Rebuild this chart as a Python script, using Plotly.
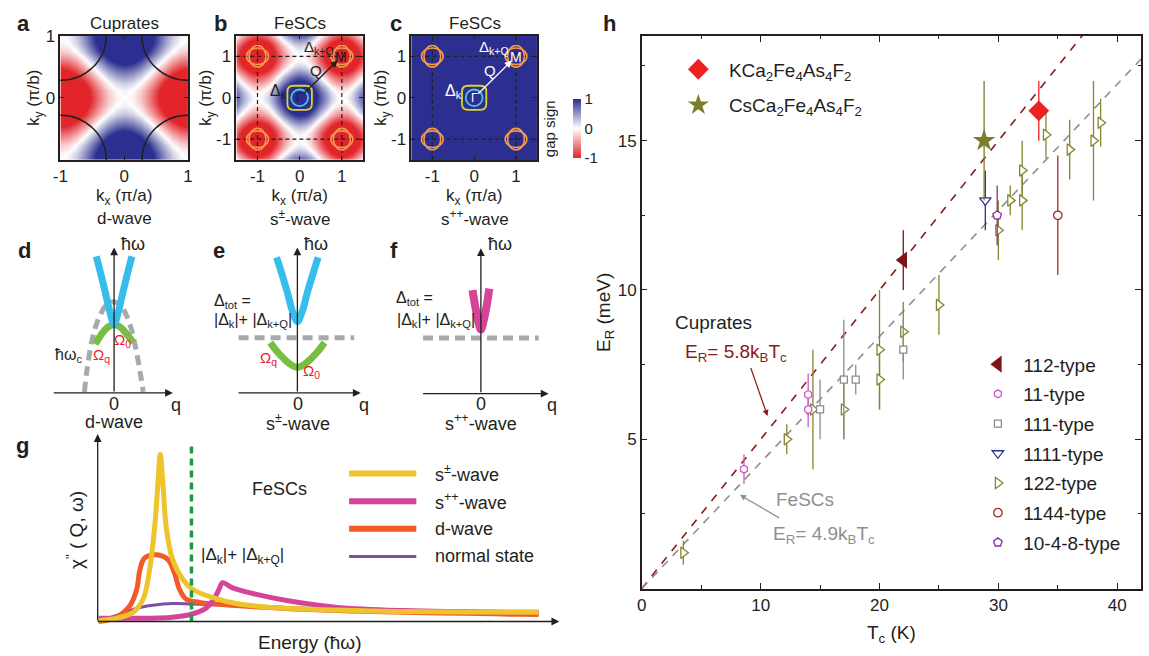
import plotly.graph_objects as go

W, H = 1149, 656
FONT = "Liberation Sans, Arial, sans-serif"
INK = "#231F20"


def P(x_px, y_px):
    return x_px / W, 1 - y_px / H


# ======================= DATA =======================
# ---- panel h : resonance energy vs Tc ----
kB = 0.08617  # meV/K
ratio_cuprate = 5.8
ratio_fesc = 4.9
fit_tc = [0.0, 42.0]

tc_112 = [22.0]; er_112 = [11.0]; de_112 = [1.0]
tc_11 = [8.6, 14.0, 14.0]; er_11 = [4.0, 6.5, 6.0]; de_11 = [0.5, 0.7, 0.6]
tc_111 = [15.0, 17.0, 18.0, 22.0]; er_111 = [6.0, 7.0, 7.0, 8.0]; de_111 = [1.0, 2.0, 0.5, 1.0]
tc_1111 = [28.9]; er_1111 = [13.0]; de_1111 = [1.0]
tc_122 = [3.5, 12.2, 14.4, 17.0, 20.0, 20.0, 22.0, 25.0, 30.0, 31.0, 32.0, 32.0, 34.0, 36.0, 38.0, 38.6]
er_122 = [1.2, 5.0, 6.0, 6.0, 8.0, 7.0, 8.6, 9.5, 12.0, 13.0, 14.0, 13.0, 15.2, 14.7, 15.0, 15.6]
de_122 = [0.4, 0.5, 2.0, 1.0, 2.0, 1.0, 1.0, 1.0, 1.0, 0.5, 1.0, 1.0, 0.8, 1.0, 2.0, 0.8]
tc_1144 = [35.0]; er_1144 = [12.5]; de_1144 = [2.0]
tc_1048 = [29.9]; er_1048 = [12.5]; de_1048 = [1.0]
tc_kca = [33.4]; er_kca = [16.0]; de_kca = [1.0]
tc_csca = [28.8]; er_csca = [15.0]; de_csca = [2.0]

k_a = [-1, -0.875, -0.75, -0.625, -0.5, -0.375, -0.25, -0.125, 0,
       0.125, 0.25, 0.375, 0.5, 0.625, 0.75, 0.875, 1]
prof_a = [-1, -0.92, -0.71, -0.38, 0, 0.38, 0.71, 0.92, 1,
          0.92, 0.71, 0.38, 0, -0.38, -0.71, -0.92, -1]
k_b = [-1.5, -1.375, -1.25, -1.125, -1, -0.875, -0.75, -0.625, -0.5, -0.375, -0.25, -0.125, 0,
       0.125, 0.25, 0.375, 0.5, 0.625, 0.75, 0.875, 1, 1.125, 1.25, 1.375, 1.5]
prof_b = [0, -0.38, -0.71, -0.92, -1, -0.92, -0.71, -0.38, 0, 0.38, 0.71, 0.92, 1,
          0.92, 0.71, 0.38, 0, -0.38, -0.71, -0.92, -1, -0.92, -0.71, -0.38, 0]
k_c = [-1.5, 1.5]
sign_c = [[1, 1], [1, 1]]

# ---- panels d-f : schematic dispersions (q, energy) ----
blue_d_q = [-0.36, -0.27, -0.18, -0.09, 0.0, 0.09, 0.18, 0.27, 0.36]
blue_d_e = [2.77, 2.42, 2.05, 1.66, 1.40, 1.66, 2.05, 2.42, 2.77]
green_d_q = [-0.38, -0.25, -0.12, 0.0, 0.12, 0.25, 0.39]
green_d_e = [0.99, 1.20, 1.34, 1.39, 1.34, 1.20, 1.02]
gray_d_q = [-0.60, -0.55, -0.45, -0.31, -0.15, 0.0, 0.15, 0.32, 0.45, 0.59]
gray_d_e = [0.02, 0.45, 1.05, 1.52, 1.79, 1.85, 1.75, 1.39, 0.85, 0.02]

blue_e_q = [-0.42, -0.31, -0.20, -0.10, 0.0, 0.10, 0.20, 0.31, 0.42]
blue_e_e = [2.75, 2.40, 2.03, 1.66, 1.45, 1.66, 2.03, 2.40, 2.75]
green_e_q = [-0.55, -0.42, -0.28, -0.14, 0.0, 0.14, 0.28, 0.42, 0.55]
green_e_e = [1.02, 0.85, 0.70, 0.58, 0.52, 0.58, 0.70, 0.85, 1.02]
gap_e_q = [-1.19, 1.15]; gap_e_e = [1.12, 1.12]

mag_f_q = [-0.17, -0.12, -0.06, 0.0, 0.06, 0.12, 0.17]
mag_f_e = [2.10, 1.80, 1.50, 1.30, 1.50, 1.80, 2.13]
gap_f_q = [-1.17, 1.17]; gap_f_e = [1.13, 1.13]

# ---- panel g : chi''(Q, w) schematic ----
spm_x = [0.002, 0.041, 0.077, 0.099, 0.113, 0.124, 0.131, 0.136, 0.142, 0.149, 0.163, 0.185,
         0.206, 0.249, 0.307, 0.414, 0.594, 0.959]
spm_y = [0.005, 0.017, 0.049, 0.12, 0.277, 0.505, 0.733, 0.891, 0.733, 0.505, 0.33, 0.225,
         0.172, 0.128, 0.093, 0.07, 0.056, 0.049]
spp_x = [0.002, 0.07, 0.163, 0.206, 0.235, 0.253, 0.264, 0.272, 0.292, 0.343, 0.414, 0.522,
         0.665, 0.923, 0.959]
spp_y = [0.017, 0.017, 0.023, 0.04, 0.07, 0.12, 0.172, 0.207, 0.181, 0.146, 0.111, 0.075,
         0.058, 0.049, 0.049]
dw_x = [0.002, 0.041, 0.07, 0.085, 0.092, 0.102, 0.128, 0.153, 0.167, 0.178, 0.192, 0.221,
        0.307, 0.522, 0.923, 0.959]
dw_y = [0.0, 0.023, 0.084, 0.172, 0.277, 0.338, 0.356, 0.33, 0.259, 0.172, 0.12, 0.102,
        0.084, 0.058, 0.038, 0.037]
ns_x = [0.002, 0.041, 0.092, 0.163, 0.206, 0.307, 0.45, 0.665, 0.923, 0.959]
ns_y = [0.0, 0.032, 0.075, 0.096, 0.093, 0.084, 0.07, 0.054, 0.042, 0.04]
gap_g_x = [0.204, 0.204]; gap_g_y = [0.0, 0.953]

# ======================= FIGURE =======================
fig = go.Figure()
GAP_CS = [[0, "#E1252A"], [0.5, "#FFFFFF"], [1, "#2C2F8F"]]

z_a = [[px - py for px in prof_a] for py in prof_a]
z_b = [[px + py for px in prof_b] for py in prof_b]
fig.add_trace(go.Heatmap(x=k_a, y=k_a, z=z_a, zsmooth="best", colorscale=GAP_CS,
                         zmin=-1.1, zmax=1.1, showscale=False, xaxis="x", yaxis="y", hoverinfo="skip"))
fig.add_trace(go.Heatmap(x=k_b, y=k_b, z=z_b, zsmooth="best", colorscale=GAP_CS,
                         zmin=-1.25, zmax=1.25, showscale=False, xaxis="x2", yaxis="y2", hoverinfo="skip"))
cbx, cby = P(561, 121)
fig.add_trace(go.Heatmap(x=k_c, y=k_c, z=sign_c, colorscale=GAP_CS, zmin=-1, zmax=1,
                         xaxis="x3", yaxis="y3", hoverinfo="skip", showscale=True,
                         colorbar=dict(x=cbx, xanchor="left", y=cby, yanchor="middle",
                                       len=60 / H, lenmode="fraction", thickness=8,
                                       thicknessmode="pixels", outlinewidth=0,
                                       tickvals=[-1, 0, 1], ticktext=["-1", "0", "1"], ticks="",
                                       tickfont=dict(size=15, color=INK, family=FONT), ypad=0)))

# ---- d, e, f schematic curves ----
def curve(xs, ys, color, width, ax, dash=None, shape="spline"):
    fig.add_trace(go.Scatter(x=xs, y=ys, mode="lines", line=dict(color=color, width=width, dash=dash,
                                                                 shape=shape),
                             xaxis="x" + ax, yaxis="y" + ax, showlegend=False, hoverinfo="skip"))

GRAYD = "#A7A9AC"
curve(gray_d_q, gray_d_e, GRAYD, 5, "4", dash="10px,6px")
curve(green_d_q, green_d_e, "#77BE43", 7, "4")
curve(blue_d_q, blue_d_e, "#35BDEB", 7, "4")
curve(gap_e_q, gap_e_e, GRAYD, 5, "5", dash="10px,6px", shape="linear")
curve(green_e_q, green_e_e, "#77BE43", 7, "5")
curve(blue_e_q, blue_e_e, "#35BDEB", 7, "5")
curve(gap_f_q, gap_f_e, GRAYD, 5, "6", dash="10px,6px", shape="linear")
curve(mag_f_q, mag_f_e, "#D6449A", 8, "6")

# ---- g curves ----
curve(ns_x, ns_y, "#7E50A5", 3, "7")
curve(dw_x, dw_y, "#F15A29", 5, "7")
curve(spp_x, spp_y, "#D6449A", 5, "7")
curve(spm_x, spm_y, "#EEC32B", 5, "7")
curve(gap_g_x, gap_g_y, "#1E9A4B", 3.5, "7", dash="7px,5px", shape="linear")

# ---- h ----
fit_c = [ratio_cuprate * kB * t for t in fit_tc]
fit_f = [ratio_fesc * kB * t for t in fit_tc]
fig.add_trace(go.Scatter(x=fit_tc, y=fit_c, mode="lines", line=dict(color="#8B1A1A", width=1.6, dash="8px,8px"),
                         xaxis="x8", yaxis="y8", showlegend=False, hoverinfo="skip"))
fig.add_trace(go.Scatter(x=fit_tc, y=fit_f, mode="lines", line=dict(color="#8F8F8F", width=1.6, dash="8px,7px"),
                         xaxis="x8", yaxis="y8", showlegend=False, hoverinfo="skip"))

NB = "\u00a0"


def pts(name, xs, ys, es, color, symbol, size, filled=False, legend="legend2", group=None, lw=1.3):
    fig.add_trace(go.Scatter(
        x=xs, y=ys, mode="markers", name=name, legend=legend, legendgroup=group,
        error_y=dict(type="data", array=es, thickness=1.3, width=0, color=color),
        marker=dict(symbol=symbol, size=size, color=color if filled else "white",
                    line=dict(color=color, width=0 if filled else lw)),
        xaxis="x8", yaxis="y8", hoverinfo="skip"))

OLIVE = "#85852F"
pts(NB + "122-type", tc_122, er_122, de_122, OLIVE, "triangle-right", 10, group="l5")
pts(NB + "111-type", tc_111, er_111, de_111, "#8C8C8C", "square", 7, group="l3")
pts(NB + "11-type", tc_11, er_11, de_11, "#D158C9", "hexagon", 8, group="l2")
pts(NB + "1111-type", tc_1111, er_1111, de_1111, "#2E3192", "triangle-down", 10, group="l4")
pts(NB + "1144-type", tc_1144, er_1144, de_1144, "#A32A2A", "circle", 8.5, group="l6")
pts(NB + "10-4-8-type", tc_1048, er_1048, de_1048, "#8A2A9C", "pentagon", 9, group="l7")
pts(NB + "112-type", tc_112, er_112, de_112, "#7B1518", "triangle-left", 15, filled=True, group="l1")
pts(NB + NB + "CsCa<sub>2</sub>Fe<sub>4</sub>As<sub>4</sub>F<sub>2</sub>", tc_csca, er_csca, de_csca,
    "#7D7D2E", "star", 17, filled=True, legend="legend", group="g2")
pts(NB + NB + "KCa<sub>2</sub>Fe<sub>4</sub>As<sub>4</sub>F<sub>2</sub>", tc_kca, er_kca, de_kca,
    "#EE2024", "diamond", 16, filled=True, legend="legend", group="g1")

# ======================= AXES =======================
def dom_x(a, b):
    return [a / W, b / W]


def dom_y(top, bot):
    return [1 - bot / H, 1 - top / H]


def map_axis(domain, rng, tv, title, anchor):
    return dict(domain=domain, range=rng, tickvals=tv, ticktext=[("-1" if v == -1 else str(v)) for v in tv],
                ticks="inside", ticklen=4, tickwidth=1.2, tickcolor=INK, showline=True, linewidth=1.5,
                linecolor=INK, mirror="ticks", showgrid=False, zeroline=False,
                tickfont=dict(size=17, color=INK), anchor=anchor,
                title=dict(text=title, font=dict(size=17, color=INK), standoff=0))


YDOM_MAP = dom_y(27, 153)
lay = dict(
    xaxis=map_axis(dom_x(53, 182), [-1, 1], [-1, 0, 1], "k<sub>x</sub> (π/a)", "y"),
    yaxis=map_axis(YDOM_MAP, [-1, 1], [0, 1], "k<sub>y</sub> (π/b)", "x"),
    xaxis2=map_axis(dom_x(231, 359), [-1.5, 1.5], [-1, 0, 1], "k<sub>x</sub> (π/a)", "y2"),
    yaxis2=map_axis(YDOM_MAP, [-1.5, 1.5], [-1, 0, 1], "k<sub>y</sub> (π/b)", "x2"),
    xaxis3=map_axis(dom_x(408, 535), [-1.5, 1.5], [-1, 0, 1], "k<sub>x</sub> (π/a)", "y3"),
    yaxis3=map_axis(YDOM_MAP, [-1.5, 1.5], [-1, 0, 1], "k<sub>y</sub> (π/b)", "x3"),
)
hid = dict(visible=False, showgrid=False, zeroline=False, fixedrange=True)
lay["xaxis4"] = dict(hid, domain=dom_x(40, 175), range=[-1.346, 1.354], anchor="y4")
lay["yaxis4"] = dict(hid, domain=dom_y(230, 400), range=[-0.214, 3.186], anchor="x4")
lay["xaxis5"] = dict(hid, domain=dom_x(225, 365), range=[-1.354, 1.446], anchor="y5")
lay["yaxis5"] = dict(hid, domain=dom_y(230, 400), range=[-0.214, 3.186], anchor="x5")
lay["xaxis6"] = dict(hid, domain=dom_x(410, 555), range=[-1.366, 1.534], anchor="y6")
lay["yaxis6"] = dict(hid, domain=dom_y(230, 400), range=[-0.2, 3.2], anchor="x6")
lay["xaxis7"] = dict(hid, domain=dom_x(85, 565), range=[-0.01226, 1.02], anchor="y7")
lay["yaxis7"] = dict(hid, domain=dom_y(425, 630), range=[-0.0474, 1.0316], anchor="x7")
lay["xaxis8"] = dict(domain=dom_x(641, 1146), range=[0, 42], tickvals=[0, 10, 20, 30, 40],
                     ticks="inside", ticklen=6, tickwidth=1.3, tickcolor=INK,
                     minor=dict(tickvals=[5, 15, 25, 35], ticks="inside", ticklen=3.5, tickcolor=INK, tickwidth=1.2),
                     showline=True, linewidth=1.5, linecolor=INK, mirror="ticks", showgrid=False,
                     zeroline=False, tickfont=dict(size=17, color=INK), anchor="y8",
                     title=dict(text="T<sub>c</sub> (K)", font=dict(size=19, color=INK), standoff=12))
lay["yaxis8"] = dict(domain=dom_y(27.5, 587.7), range=[0, 18.5], tickvals=[5, 10, 15],
                     ticks="inside", ticklen=6, tickwidth=1.3, tickcolor=INK,
                     minor=dict(tickvals=[2.5, 7.5, 12.5, 17.5], ticks="inside", ticklen=3.5, tickcolor=INK, tickwidth=1.2),
                     showline=True, linewidth=1.5, linecolor=INK, mirror="ticks", showgrid=False,
                     zeroline=False, tickfont=dict(size=17, color=INK), anchor="x8",
                     title=dict(text="E<sub>R</sub> (meV)", font=dict(size=19, color=INK), standoff=2))

# ======================= SHAPES =======================
shapes = []
# cuprate Fermi surface arcs (panel a)
fs_r = 0.72
for cx in (-1, 1):
    for cy in (-1, 1):
        shapes.append(dict(type="circle", xref="x", yref="y", x0=cx - fs_r, x1=cx + fs_r,
                           y0=cy - fs_r, y1=cy + fs_r, line=dict(color=INK, width=1.5), layer="above"))

pocket_a, pocket_b = 0.26, 0.2
gamma_r = 0.2
gamma_h, gamma_c = 0.29, 0.14
for ax in ("2", "3"):
    for v in (-1, 1):
        shapes.append(dict(type="line", xref="x" + ax, yref="y" + ax, x0=v, x1=v, y0=-1.5, y1=1.5,
                           line=dict(color=INK, width=1.2, dash="4px,3px"), layer="above"))
        shapes.append(dict(type="line", xref="x" + ax, yref="y" + ax, y0=v, y1=v, x0=-1.5, x1=1.5,
                           line=dict(color=INK, width=1.2, dash="4px,3px"), layer="above"))
    for cx in (-1, 1):
        for cy in (-1, 1):
            for (ra, rb) in ((pocket_a, pocket_b), (pocket_b, pocket_a)):
                shapes.append(dict(type="circle", xref="x" + ax, yref="y" + ax, x0=cx - ra, x1=cx + ra,
                                   y0=cy - rb, y1=cy + rb, line=dict(color="#F39A4B", width=1.6),
                                   layer="above"))
    shapes.append(dict(type="circle", xref="x" + ax, yref="y" + ax, x0=-gamma_r, x1=gamma_r,
                       y0=-gamma_r, y1=gamma_r, line=dict(color="#4DC8D8", width=1.8), layer="above"))
    h, c = gamma_h, gamma_c
    path = (f"M {-h + c},{-h} L {h - c},{-h} Q {h},{-h} {h},{-h + c} L {h},{h - c} Q {h},{h} {h - c},{h} "
            f"L {-h + c},{h} Q {-h},{h} {-h},{h - c} L {-h},{-h + c} Q {-h},{-h} {-h + c},{-h} Z")
    shapes.append(dict(type="path", xref="x" + ax, yref="y" + ax, path=path,
                       line=dict(color="#D8D62C", width=1.8), layer="above"))

# legend lines of panel g
g_leg = [("#EEC32B", 6, 471), ("#D6449A", 6, 499), ("#F15A29", 6, 527), ("#7E50A5", 3, 555)]
for col, wdt, yy in g_leg:
    x0, y0 = P(345, yy)
    x1, _ = P(413, yy)
    shapes.append(dict(type="line", xref="paper", yref="paper", x0=x0, x1=x1, y0=y0, y1=y0,
                       line=dict(color=col, width=wdt)))

# ======================= ANNOTATIONS =======================
anns = []


def T(text, xp, yp, size=17, color=INK, xa="center", ya="middle", bold=False, angle=0):
    x, y = P(xp, yp)
    if bold:
        text = f"<b>{text}</b>"
    anns.append(dict(text=text, x=x, y=y, xref="paper", yref="paper", showarrow=False,
                     xanchor=xa, yanchor=ya, textangle=angle,
                     font=dict(size=size, color=color, family=FONT)))


def A(ax_id, x, y, axx, ayy, color=INK, width=1.3, size=1.2):
    anns.append(dict(text="", x=x, y=y, ax=axx, ay=ayy, xref="x" + ax_id, yref="y" + ax_id,
                     axref="x" + ax_id, ayref="y" + ax_id, showarrow=True, arrowhead=2,
                     arrowsize=size, arrowwidth=width, arrowcolor=color, standoff=0, startstandoff=0))


# panel letters
for lt, xp, yp in (("a", 16, 15), ("b", 215, 15), ("c", 392, 15), ("d", 17, 245), ("e", 213, 245),
                   ("f", 390, 245), ("g", 15, 443), ("h", 608, 15)):
    T(lt, xp, yp, size=22, bold=True)

# a-c titles
T("Cuprates", 118, 15, 17); T("FeSCs", 295, 15, 17); T("FeSCs", 472, 15, 17)
T("d-wave", 118, 212, 17); T("s<sup>±</sup>-wave", 295, 212, 17); T("s<sup>++</sup>-wave", 472, 212, 17)
T("gap sign", 548, 121, 15, angle=-90)

# panel b / c labels
for ax, col in (("2", INK), ("3", "white")):
    A(ax, 0.9, 0.9, 0.06, 0.06, color=col, width=1.3, size=1.1)
    for txt, x, y, s in (("Δ<sub>k+Q</sub>", 0.47, 1.22, 15), ("Q", 0.38, 0.66, 15), ("M", 0.99, 0.99, 14),
                         ("Γ", 0.0, 0.0, 12), ("Δ<sub>k</sub>", -0.5, 0.14, 16)):
        anns.append(dict(text=txt, x=x, y=y, xref="x" + ax, yref="y" + ax, showarrow=False,
                         font=dict(size=s, color=col, family=FONT)))

# d, e, f axes arrows and labels
for ax, x0, x1 in (("4", -1.25, 1.19), ("5", -1.22, 1.28), ("6", -1.2, 1.37)):
    A(ax, x1, 0, x0, 0)
    A(ax, 0, 2.95, 0, 0)
T("ħω", 112, 238, 18, xa="left"); T("ħω", 297, 238, 18, xa="left"); T("ħω", 483, 238, 18, xa="left")
T("q", 170, 402, 18); T("q", 360, 402, 18); T("q", 550, 402, 18)
T("0", 107, 400, 18); T("0", 293, 400, 18); T("0", 478, 400, 18)
T("d-wave", 107, 419, 18); T("s<sup>±</sup>-wave", 293, 419, 18); T("s<sup>++</sup>-wave", 478, 419, 18)
T("ħω<sub>c</sub>", 61, 351, 16)
RED = "#E8202A"
T("Ω<sub>q</sub>", 95, 351, 15, RED); T("Ω<sub>0</sub>", 116, 336, 15, RED)
T("Ω<sub>q</sub>", 263, 354, 15, RED); T("Ω<sub>0</sub>", 307, 368, 15, RED)
T("Δ<sub>tot</sub> =", 206, 297, 16, xa="left"); T("|Δ<sub>k</sub>|+ |Δ<sub>k+Q</sub>|", 206, 316, 16, xa="left")
T("Δ<sub>tot</sub> =", 390, 294, 16, xa="left"); T("|Δ<sub>k</sub>|+ |Δ<sub>k+Q</sub>|", 391, 316, 16, xa="left")

# panel g
A("7", 1.004, 0, -0.003, 0)
A("7", 0, 1.0, 0, -0.003)
T("χ<sup>\"</sup> ( Q, ω)", 68, 528, 19, angle=-90)
T("Energy (ħω)", 305, 642, 19)
T("FeSCs", 275, 487, 18)
T("|Δ<sub>k</sub>|+ |Δ<sub>k+Q</sub>|", 193, 555, 17, xa="left")
for txt, yy in (("s<sup>±</sup>-wave", 471), ("s<sup>++</sup>-wave", 499), ("d-wave", 527), ("normal state", 555)):
    T(txt, 430, yy, 18, xa="left")

# panel h annotations
T("Cuprates", 673, 318, 19, xa="left")
T("E<sub>R</sub>= 5.8k<sub>B</sub>T<sub>c</sub>", 683, 349, 19, "#8B1A1A", xa="left")
T("FeSCs", 775, 497, 19, "#8F8F8F", xa="left")
T("E<sub>R</sub>= 4.9k<sub>B</sub>T<sub>c</sub>", 772, 533, 19, "#8F8F8F", xa="left")
A("8", 10.58, 5.78, 9.13, 7.44, color="#8B1A1A", width=1.2, size=1.0)
A("8", 8.26, 3.14, 11.68, 2.34, color="#8F8F8F", width=1.2, size=1.0)

lx1, ly1 = P(678, 42)
lx2, ly2 = P(981, 341)
fig.update_layout(
    width=W, height=H, margin=dict(l=0, r=0, t=0, b=0), autosize=False,
    paper_bgcolor="white", plot_bgcolor="white",
    font=dict(family=FONT, color=INK),
    shapes=shapes, annotations=anns,
    legend=dict(x=lx1, y=ly1, xanchor="left", yanchor="top", font=dict(size=19, color=INK),
                bgcolor="rgba(0,0,0,0)", tracegroupgap=8, traceorder="grouped"),
    legend2=dict(x=lx2, y=ly2, xanchor="left", yanchor="top", font=dict(size=19, color=INK),
                 bgcolor="rgba(0,0,0,0)", tracegroupgap=2, traceorder="grouped"),
    **lay,
)

# legend order
order = ["112-type", "11-type", "111-type", "1111-type", "122-type", "1144-type", "10-4-8-type"]
for tr in fig.data:
    nm = (tr.name or "").replace(NB, "")
    if nm in order:
        tr.legendrank = order.index(nm)
    elif "KCa" in nm:
        tr.legendrank = 0
    elif "CsCa" in nm:
        tr.legendrank = 1
    else:
        tr.showlegend = False

fig.write_html("out.html")
